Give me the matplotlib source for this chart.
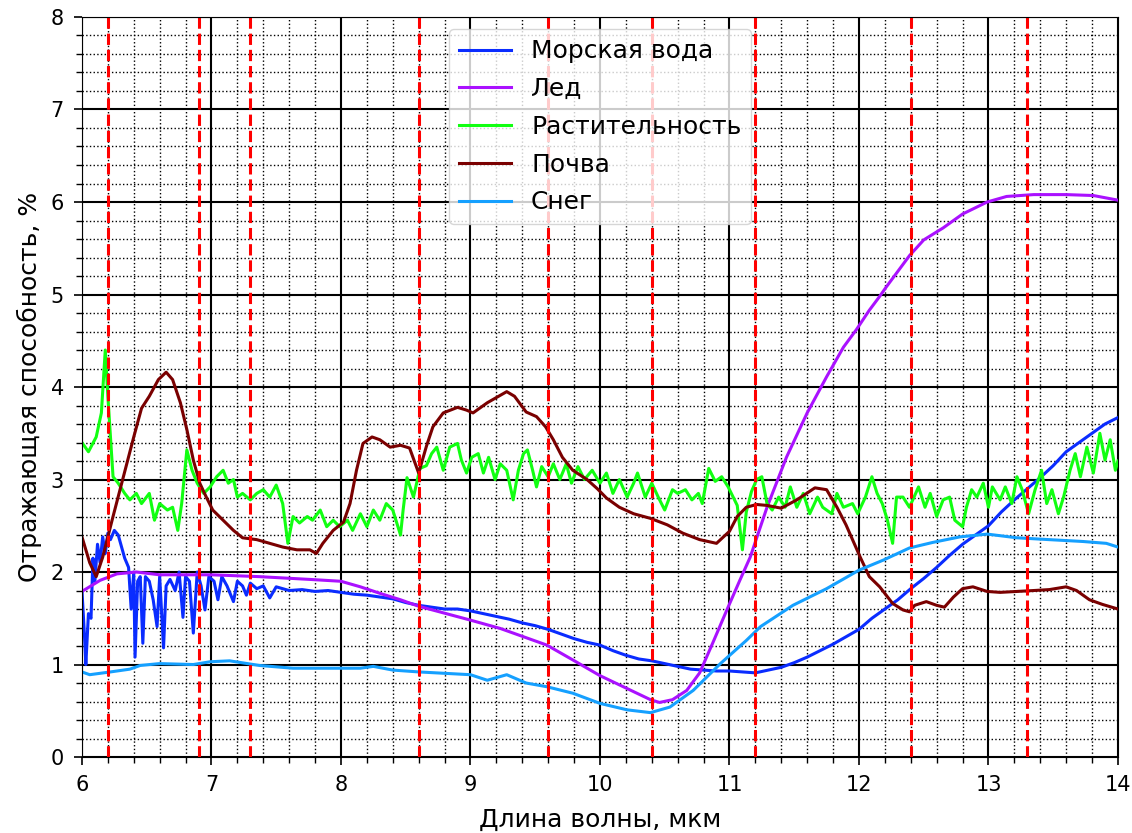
import matplotlib
matplotlib.use("Agg")
import matplotlib.pyplot as plt
from matplotlib.ticker import MultipleLocator

plt.rcParams['font.family'] = ['DejaVu Sans']
plt.rcParams['font.size'] = 15

# ---- data ----
sea_x = [6.0, 6.02, 6.03, 6.05, 6.07, 6.085, 6.1, 6.12, 6.14, 6.16, 6.18, 6.2, 6.22, 6.25, 6.28,
         6.3, 6.33, 6.36, 6.38, 6.4, 6.41, 6.43, 6.45, 6.47, 6.49, 6.52, 6.55, 6.58, 6.6, 6.63,
         6.65, 6.68, 6.72, 6.75, 6.78, 6.8, 6.83, 6.86, 6.89, 6.92, 6.95, 6.98, 7.02, 7.05, 7.08,
         7.12, 7.17, 7.2, 7.24, 7.27, 7.3, 7.35, 7.4, 7.45, 7.5, 7.55, 7.6, 7.7, 7.8, 7.9, 8.0,
         8.1, 8.2, 8.3, 8.4, 8.5, 8.6, 8.7, 8.8, 8.9, 9.0, 9.1, 9.2, 9.3, 9.4, 9.5, 9.6, 9.7,
         9.8, 9.9, 10.0, 10.1, 10.2, 10.3, 10.4, 10.5, 10.6, 10.7, 10.8, 10.9, 11.0, 11.1, 11.2,
         11.3, 11.4, 11.5, 11.6, 11.7, 11.8, 11.9, 12.0, 12.1, 12.2, 12.3, 12.4, 12.5, 12.6,
         12.7, 12.8, 12.9, 13.0, 13.1, 13.2, 13.3, 13.4, 13.5, 13.6, 13.7, 13.8, 13.9, 14.0]
sea_y = [1.8, 1.3, 1.0, 1.55, 1.5, 2.15, 1.9, 2.3, 2.1, 2.38, 2.2, 2.42, 2.35, 2.45, 2.4,
         2.3, 2.15, 2.05, 1.6, 2.0, 1.08, 1.9, 1.95, 1.23, 1.95, 1.9, 1.7, 1.41, 1.95, 1.18,
         1.85, 1.92, 1.8, 2.0, 1.51, 1.95, 1.9, 1.34, 2.0, 1.85, 1.59, 1.95, 1.9, 1.7, 1.95,
         1.85, 1.68, 1.9, 1.85, 1.75, 1.88, 1.82, 1.85, 1.72, 1.84, 1.82, 1.8, 1.81, 1.79, 1.8, 1.78,
         1.76, 1.75, 1.73, 1.71, 1.67, 1.64, 1.62, 1.6, 1.6, 1.58, 1.55, 1.52, 1.49, 1.45, 1.42, 1.38, 1.33,
         1.28, 1.24, 1.21, 1.15, 1.1, 1.06, 1.04, 1.01, 0.98, 0.95, 0.94, 0.93, 0.93, 0.92, 0.91,
         0.94, 0.97, 1.02, 1.08, 1.15, 1.22, 1.3, 1.38, 1.5, 1.6, 1.7, 1.82, 1.93, 2.05,
         2.18, 2.3, 2.4, 2.5, 2.65, 2.78, 2.9, 3.02, 3.15, 3.3, 3.4, 3.5, 3.6, 3.67]

ice_x = [6.0, 6.14, 6.27, 6.42, 6.6, 7.0, 7.37, 7.76, 8.0, 8.15, 8.3, 8.46, 8.6, 9.0, 9.23,
         9.59, 9.79, 10.0, 10.21, 10.39, 10.46, 10.56, 10.67, 10.77, 10.87, 10.98, 11.08, 11.16,
         11.29, 11.44, 11.6, 11.75, 11.88, 11.98, 12.08, 12.16, 12.21, 12.39, 12.5, 12.65, 12.8,
         12.99, 13.14, 13.35, 13.6, 13.81, 14.0]
ice_y = [1.79, 1.91, 1.98, 2.0, 1.97, 1.97, 1.95, 1.92, 1.9, 1.84, 1.77, 1.7, 1.63, 1.48, 1.39,
         1.21, 1.05, 0.88, 0.74, 0.62, 0.59, 0.62, 0.72, 0.91, 1.23, 1.59, 1.91, 2.16,
         2.7, 3.24, 3.72, 4.11, 4.43, 4.62, 4.83, 4.98, 5.08, 5.42, 5.59, 5.72, 5.87,
         6.0, 6.06, 6.08, 6.08, 6.07, 6.02]

veg_x = [6.0, 6.02, 6.05, 6.11, 6.15, 6.18, 6.2, 6.24, 6.28, 6.33, 6.37, 6.42, 6.46, 6.52, 6.56,
         6.6, 6.66, 6.7, 6.74, 6.77, 6.81, 6.85, 6.89, 6.94, 6.99, 7.04, 7.09, 7.13, 7.17, 7.2,
         7.24, 7.3, 7.35, 7.4, 7.45, 7.5, 7.55, 7.59, 7.63, 7.68, 7.74, 7.78, 7.84, 7.89, 7.94,
         7.99, 8.05, 8.09, 8.15, 8.2, 8.25, 8.3, 8.35, 8.4, 8.46, 8.48, 8.51, 8.56, 8.61, 8.66,
         8.7, 8.74, 8.79, 8.84, 8.9, 8.93, 8.97, 9.01, 9.06, 9.1, 9.14, 9.19, 9.23, 9.28, 9.33,
         9.37, 9.41, 9.44, 9.48, 9.51, 9.55, 9.6, 9.64, 9.69, 9.74, 9.78, 9.83, 9.88, 9.94, 10.0,
         10.05, 10.1, 10.15, 10.21, 10.26, 10.29, 10.35, 10.4, 10.45, 10.5, 10.56, 10.6, 10.66,
         10.71, 10.76, 10.79, 10.84, 10.89, 10.94, 10.99, 11.06, 11.1, 11.13, 11.17, 11.21, 11.25,
         11.29, 11.33, 11.38, 11.43, 11.47, 11.52, 11.57, 11.62, 11.68, 11.72, 11.79, 11.83,
         11.88, 11.95, 11.99, 12.05, 12.1, 12.14, 12.18, 12.22, 12.26, 12.29, 12.34, 12.39,
         12.46, 12.51, 12.55, 12.6, 12.65, 12.7, 12.74, 12.8, 12.83, 12.87, 12.91, 12.96, 13.0,
         13.03, 13.09, 13.13, 13.18, 13.22, 13.26, 13.31, 13.36, 13.41, 13.45, 13.49, 13.54,
         13.58, 13.63, 13.67, 13.71, 13.76, 13.81, 13.86, 13.9, 13.94, 13.98, 14.0]
veg_y = [3.4, 3.36, 3.3, 3.46, 3.72, 4.4, 3.9, 3.03, 2.96, 2.85, 2.78, 2.85, 2.74, 2.85, 2.56,
         2.74, 2.67, 2.7, 2.45, 2.74, 3.32, 3.1, 2.96, 2.85, 2.92, 3.03, 3.1, 2.96, 3.0, 2.81,
         2.85, 2.78, 2.85, 2.89, 2.81, 2.94, 2.74, 2.31, 2.6, 2.53, 2.6, 2.56, 2.67, 2.49, 2.56,
         2.49, 2.56, 2.45, 2.63, 2.49, 2.67, 2.56, 2.74, 2.67, 2.4, 2.67, 3.02, 2.81, 3.12, 3.15,
         3.28, 3.35, 3.1, 3.35, 3.39, 3.21, 3.07, 3.24, 3.28, 3.07, 3.24, 3.0, 3.17, 3.1, 2.78,
         3.1, 3.28, 3.32, 3.1, 2.92, 3.14, 3.03, 3.17, 3.0, 3.17, 2.96, 3.14, 3.0, 3.1, 2.96,
         3.07, 2.85, 3.0, 2.81, 2.96, 3.07, 2.81, 2.96, 2.81, 2.67, 2.89, 2.85, 2.89,
         2.78, 2.85, 2.74, 3.12, 2.98, 3.03, 2.92, 2.72, 2.24, 2.65, 2.87, 3.0, 3.03,
         2.74, 2.67, 2.81, 2.7, 2.92, 2.7, 2.85, 2.63, 2.81, 2.7, 2.63, 2.85,
         2.7, 2.74, 2.63, 2.81, 3.03, 2.85, 2.74, 2.56, 2.31, 2.81, 2.81, 2.7,
         2.92, 2.7, 2.85, 2.6, 2.78, 2.81, 2.56, 2.49, 2.7, 2.89, 2.81, 2.96, 2.7,
         2.92, 2.78, 2.92, 2.74, 3.03, 2.89, 2.63, 2.89, 3.1, 2.74, 2.89, 2.63,
         2.81, 3.1, 3.28, 3.03, 3.35, 3.07, 3.5, 3.21, 3.43, 3.1, 3.2]

soil_x = [6.0, 6.06, 6.11, 6.16, 6.24, 6.32, 6.4, 6.46, 6.52, 6.59, 6.65, 6.7, 6.76, 6.81, 6.86,
          6.91, 6.96, 7.01, 7.09, 7.17, 7.24, 7.35, 7.45, 7.55, 7.66, 7.76, 7.81, 7.86, 7.94,
          8.02, 8.07, 8.12, 8.17, 8.24, 8.3, 8.38, 8.46, 8.53, 8.6, 8.66, 8.71, 8.79, 8.9, 8.97,
          9.02, 9.13, 9.23, 9.28, 9.34, 9.43, 9.51, 9.58, 9.64, 9.71, 9.79, 9.9, 9.98, 10.05,
          10.15, 10.26, 10.39, 10.52, 10.64, 10.77, 10.9, 11.0, 11.06, 11.13, 11.21, 11.29, 11.4,
          11.52, 11.66, 11.75, 11.83, 11.9, 12.01, 12.08, 12.16, 12.26, 12.34, 12.39, 12.43,
          12.52, 12.6, 12.66, 12.73, 12.8, 12.88, 12.99, 13.09, 13.22, 13.35, 13.47, 13.6, 13.68,
          13.78, 13.88, 14.0]
soil_y = [2.38, 2.1, 1.95, 2.16, 2.6, 3.03, 3.46, 3.77, 3.9, 4.08, 4.16, 4.08, 3.83, 3.54, 3.21,
          2.96, 2.81, 2.67, 2.56, 2.45, 2.37, 2.35, 2.31, 2.27, 2.24, 2.24, 2.2, 2.31, 2.45,
          2.54, 2.74, 3.1, 3.39, 3.46, 3.43, 3.35, 3.37, 3.34, 3.07, 3.36, 3.57, 3.72, 3.78, 3.75,
          3.72, 3.83, 3.91, 3.95, 3.9, 3.73, 3.68, 3.57, 3.43, 3.24, 3.1, 3.0, 2.9, 2.8,
          2.7, 2.63, 2.58, 2.51, 2.42, 2.35, 2.31, 2.44, 2.6, 2.7, 2.73, 2.72, 2.69,
          2.78, 2.91, 2.89, 2.7, 2.51, 2.16, 1.95, 1.84, 1.66, 1.59, 1.57, 1.64,
          1.68, 1.64, 1.62, 1.73, 1.82, 1.84, 1.79, 1.78, 1.79, 1.8, 1.81, 1.84, 1.8,
          1.7, 1.65, 1.6]

snow_x = [6.0, 6.06, 6.22, 6.37, 6.45, 6.6, 6.86, 6.99, 7.14, 7.37, 7.63, 7.89, 8.15, 8.25,
          8.4, 8.6, 9.0, 9.13, 9.28, 9.43, 9.59, 9.79, 10.0, 10.21, 10.39, 10.54, 10.72, 10.93,
          11.13, 11.24, 11.49, 11.75, 12.0, 12.19, 12.39, 12.57, 12.78, 12.99, 13.22, 13.47,
          13.73, 13.91, 14.0]
snow_y = [0.92, 0.89, 0.92, 0.95, 0.99, 1.01, 1.0, 1.03, 1.04, 0.99, 0.96, 0.96, 0.96, 0.98,
          0.94, 0.92, 0.89, 0.83, 0.89, 0.8, 0.76, 0.69, 0.58, 0.51, 0.48, 0.54, 0.72, 1.01,
          1.26, 1.41, 1.64, 1.82, 2.02, 2.13, 2.26, 2.32, 2.38, 2.41, 2.37, 2.35,
          2.33, 2.31, 2.27]

marker_lines = [6.2, 6.9, 7.3, 8.6, 9.6, 10.4, 11.2, 12.4, 13.3]

labels = ['Морская вода', 'Лед', 'Растительность', 'Почва', 'Снег']
colors = ['#0a2cff', '#aa11ff', '#11ff11', '#7a0000', '#15a0ff']

fig = plt.figure(figsize=(11.32, 8.33), dpi=100)
ax = fig.add_axes([0.0724, 0.0912, 0.9152, 0.8884])

series = [(sea_x, sea_y), (ice_x, ice_y), (veg_x, veg_y), (soil_x, soil_y), (snow_x, snow_y)]
for (xs, ys), lab, col in zip(series, labels, colors):
    ax.plot(xs, ys, color=col, lw=2.2, label=lab)

for xv in marker_lines:
    ax.axvline(xv, color='red', ls='--', lw=2.2)

ax.set_xlim(6, 14)
ax.set_ylim(0, 8)
ax.xaxis.set_major_locator(MultipleLocator(1))
ax.yaxis.set_major_locator(MultipleLocator(1))
ax.xaxis.set_minor_locator(MultipleLocator(0.2))
ax.yaxis.set_minor_locator(MultipleLocator(0.2))
ax.grid(which='major', color='black', lw=1.5, ls='-')
ax.grid(which='minor', color='black', lw=1.0, ls=':')
ax.tick_params(which='major', length=6, width=1.2, labelsize=15, pad=7)
ax.tick_params(which='minor', length=4, width=1.0)

ax.set_xlabel('Длина волны, мкм', fontsize=18, labelpad=9)
ax.set_ylabel('Отражающая способность, %', fontsize=18, labelpad=6)
ax.legend(loc='upper center', fontsize=18, handlelength=2.1, labelspacing=0.55)

fig.savefig('out.png', dpi=100)
